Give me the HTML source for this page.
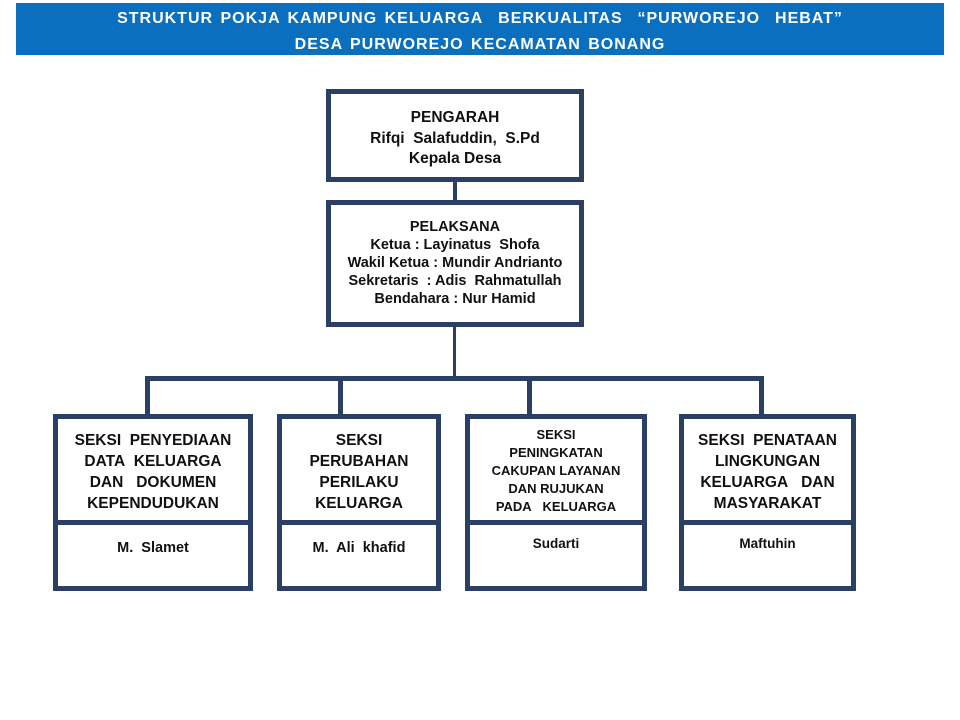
<!DOCTYPE html>
<html><head><meta charset="utf-8"><style>
*{margin:0;padding:0;box-sizing:border-box}
body{width:960px;height:720px;background:#fff;position:relative;font-family:"Liberation Sans",Arial,sans-serif;font-weight:bold;color:#111;overflow:hidden}
.a{position:absolute}
.banner{left:16px;top:3px;width:928px;height:52px;background:#0a6fbf;color:#fff;text-align:center;font-size:16px;line-height:26px;padding-top:3px;letter-spacing:1px;word-spacing:2px}
.box{position:absolute;border:5px solid #2b3e63;background:#fff;text-align:center}
.l{position:absolute;background:#2b3e63}
.div{position:absolute;left:-2px;right:-2px;height:5px;background:#2b3e63}
.t{position:absolute;left:0;right:0;text-align:center}
</style></head><body>
<div class="a banner">STRUKTUR POKJA KAMPUNG KELUARGA&nbsp; BERKUALITAS&nbsp; “PURWOREJO&nbsp; HEBAT”<br>DESA PURWOREJO KECAMATAN BONANG</div>

<div class="box" style="left:326px;top:89px;width:258px;height:93px;font-size:15.5px;line-height:20.5px;padding-top:14px">PENGARAH<br>Rifqi&nbsp; Salafuddin,&nbsp; S.Pd<br>Kepala Desa</div>
<div class="l" style="left:453px;top:181px;width:4px;height:20px"></div>
<div class="box" style="left:326px;top:200px;width:258px;height:127px;font-size:14.5px;line-height:18px;padding-top:13px">PELAKSANA<br>Ketua : Layinatus&nbsp; Shofa<br>Wakil Ketua : Mundir Andrianto<br>Sekretaris&nbsp; : Adis&nbsp; Rahmatullah<br>Bendahara : Nur Hamid</div>
<div class="l" style="left:453px;top:326px;width:3px;height:52px"></div>
<div class="l" style="left:145px;top:376px;width:619px;height:5px"></div>
<div class="l" style="left:145px;top:376px;width:5px;height:40px"></div>
<div class="l" style="left:338px;top:376px;width:5px;height:40px"></div>
<div class="l" style="left:527px;top:376px;width:5px;height:40px"></div>
<div class="l" style="left:759px;top:376px;width:5px;height:40px"></div>

<div class="box" style="left:53px;top:414px;width:200px;height:177px;font-size:15.5px;line-height:21px">
<div class="t" style="top:11px">SEKSI&nbsp; PENYEDIAAN<br>DATA&nbsp; KELUARGA<br>DAN&nbsp;&nbsp; DOKUMEN<br>KEPENDUDUKAN</div>
<div class="div" style="top:101px;right:-5px"></div>
<div class="t" style="top:119px;font-size:14.5px">M.&nbsp; Slamet</div></div>

<div class="box" style="left:277px;top:414px;width:164px;height:177px;font-size:15.5px;line-height:21px">
<div class="t" style="top:11px">SEKSI<br>PERUBAHAN<br>PERILAKU<br>KELUARGA</div>
<div class="div" style="top:101px"></div>
<div class="t" style="top:119px;font-size:14.5px">M.&nbsp; Ali&nbsp; khafid</div></div>

<div class="box" style="left:465px;top:414px;width:182px;height:177px;font-size:13px;line-height:18px">
<div class="t" style="top:7px">SEKSI<br>PENINGKATAN<br>CAKUPAN LAYANAN<br>DAN RUJUKAN<br>PADA&nbsp;&nbsp; KELUARGA</div>
<div class="div" style="top:101px;right:-5px"></div>
<div class="t" style="top:116px;font-size:13.5px">Sudarti</div></div>

<div class="box" style="left:679px;top:414px;width:177px;height:177px;font-size:15.5px;line-height:21px">
<div class="t" style="top:11px">SEKSI&nbsp; PENATAAN<br>LINGKUNGAN<br>KELUARGA&nbsp;&nbsp; DAN<br>MASYARAKAT</div>
<div class="div" style="top:101px;right:-5px"></div>
<div class="t" style="top:114px;font-size:13.5px">Maftuhin</div></div>
</body></html>
